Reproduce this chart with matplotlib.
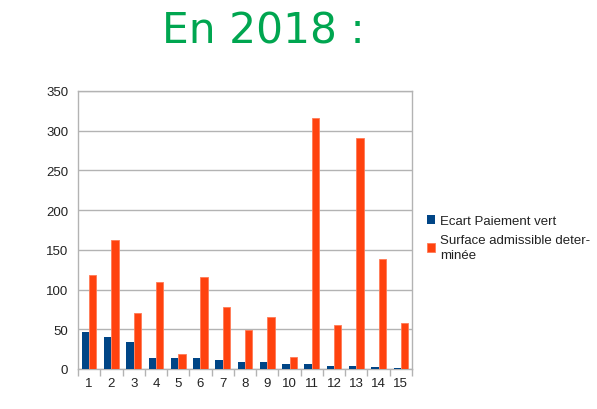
import matplotlib
matplotlib.use("Agg")
import matplotlib.pyplot as plt
import numpy as np

categories = [str(i) for i in range(1, 16)]
ecart = [46, 40, 34, 14, 14, 14, 11, 9, 9, 6, 6, 4, 4, 3, 1]
surface = [118, 162, 70, 110, 19, 116, 78, 49, 66, 15, 316, 55, 291, 138, 58]

plt.rcParams["font.family"] = ["Liberation Sans", "DejaVu Sans"]

fig = plt.figure(figsize=(5.97, 4.10), dpi=100)
ax = fig.add_axes([78/597, 40/410, 334/597, 278/410])

x = np.arange(len(categories))
w = 0.33
ax.bar(x - w/2, ecart, width=w, color="#004586", label="Ecart Paiement vert", zorder=3)
ax.bar(x + w/2, surface, width=w, color="#FF420E", edgecolor="#FF7A55", linewidth=0.6,
       label="Surface admissible deter-\nminée", zorder=3)

ax.set_xlim(-0.5, len(categories) - 0.5)
ax.set_ylim(0, 350)
ax.set_yticks(range(0, 351, 50))
ax.set_xticks(x)
ax.set_xticklabels(categories)
ax.set_xticks(np.arange(-0.5, len(categories), 1), minor=True)
ax.tick_params(axis="x", which="major", length=0, labelsize=9.5, pad=6, colors="#222222")
ax.tick_params(axis="x", which="minor", length=5, color="#b3b3b3", width=1)
ax.tick_params(axis="y", length=0, labelsize=9.5, pad=7, colors="#222222")
ax.yaxis.grid(True, color="#b3b3b3", linewidth=1, zorder=0)
for s in ax.spines.values():
    s.set_color("#b3b3b3")
    s.set_linewidth(1)

leg = fig.legend(loc="upper left", bbox_to_anchor=(427/597, 1 - 216/410), frameon=False,
                 fontsize=9.5, handlelength=0.6, handleheight=0.6, handletextpad=0.4,
                 labelspacing=0.55, borderaxespad=0, borderpad=0)
for t in leg.get_texts():
    t.set_color("#222222")
    t.set_linespacing(1.3)

fig.text(263/597, 1 - 32/410, "En 2018 :", color="#00A650", fontsize=30.5,
         ha="center", va="center", family="DejaVu Sans")

fig.savefig("out.png", dpi=100)
